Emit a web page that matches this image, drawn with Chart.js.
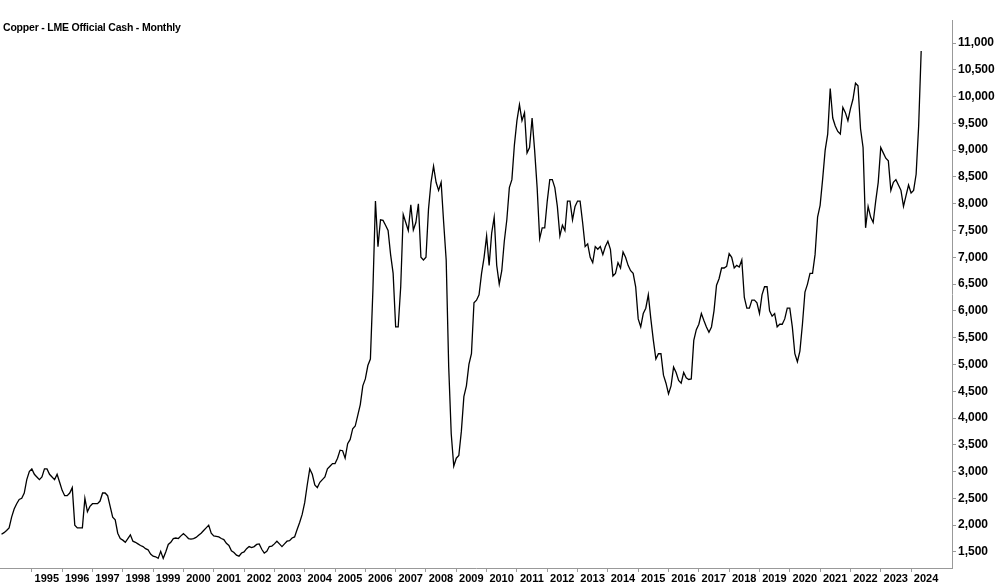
<!DOCTYPE html>
<html>
<head>
<meta charset="utf-8">
<script src="https://cdn.jsdelivr.net/npm/chart.js@4"></script>
<style>
  body { margin: 0; background: #fff; }
  #wrap { position: relative; width: 1000px; height: 583px; }
  #title { position: absolute; left: 3px; top: 21px; font: bold 10.5px "Liberation Sans", Arial, sans-serif; color: #000; letter-spacing: -0.2px; }
</style>
</head>
<body>
<div id="wrap">
  <canvas id="copperChart" width="1000" height="583"></canvas>
  <div id="title">Copper - LME Official Cash - Monthly</div>
</div>
<script>
// monthly LME cash copper, USD/t, Jan 1994 - May 2024
const startYear = 1994;
const y1994 = [1830, 1860, 1900, 1950, 2150, 2300, 2400, 2480, 2500, 2600, 2850, 3000];
const y1995 = [3050, 2950, 2900, 2850, 2900, 3050, 3050, 2950, 2900, 2850, 2950, 2800];
const y1996 = [2650, 2550, 2550, 2600, 2700, 2000, 1950, 1950, 1950, 2500, 2250, 2350];
const y1997 = [2400, 2400, 2400, 2450, 2600, 2600, 2550, 2350, 2150, 2100, 1850, 1750];
const y1998 = [1720, 1680, 1750, 1820, 1700, 1680, 1650, 1620, 1600, 1560, 1540, 1460];
const y1999 = [1420, 1410, 1380, 1510, 1380, 1500, 1640, 1680, 1750, 1760, 1750, 1800];
const y2000 = [1840, 1800, 1750, 1740, 1750, 1770, 1810, 1850, 1900, 1950, 2000, 1850];
const y2001 = [1800, 1790, 1780, 1750, 1730, 1660, 1620, 1520, 1490, 1440, 1420, 1480];
const y2002 = [1500, 1560, 1600, 1580, 1600, 1640, 1650, 1550, 1480, 1510, 1600, 1610];
const y2003 = [1650, 1700, 1650, 1600, 1650, 1700, 1710, 1760, 1780, 1920, 2050, 2200];
const y2004 = [2420, 2750, 3050, 2950, 2750, 2700, 2800, 2850, 2900, 3050, 3100, 3150];
const y2005 = [3150, 3250, 3400, 3390, 3250, 3520, 3600, 3800, 3850, 4050, 4250, 4600];
const y2006 = [4730, 4980, 5100, 6400, 8050, 7200, 7700, 7690, 7600, 7500, 7050, 6700];
const y2007 = [5700, 5700, 6450, 7800, 7650, 7500, 7980, 7510, 7650, 8000, 7000, 6950];
const y2008 = [7000, 7900, 8400, 8700, 8400, 8250, 8400, 7650, 6950, 4950, 3700, 3100];
const y2009 = [3250, 3300, 3750, 4400, 4600, 5000, 5200, 6150, 6200, 6300, 6700, 7000];
const y2010 = [7400, 6850, 7450, 7750, 6850, 6500, 6750, 7300, 7700, 8300, 8450, 9100];
const y2011 = [9550, 9850, 9550, 9700, 8950, 9050, 9600, 9000, 8300, 7350, 7550, 7550];
const y2012 = [8050, 8450, 8450, 8300, 7950, 7400, 7600, 7500, 8050, 8050, 7700, 7950];
const y2013 = [8050, 8050, 7650, 7200, 7250, 7000, 6900, 7200, 7150, 7200, 7050, 7200];
const y2014 = [7300, 7150, 6650, 6700, 6900, 6800, 7100, 7000, 6850, 6750, 6700, 6450];
const y2015 = [5850, 5700, 5950, 6050, 6300, 5850, 5450, 5100, 5200, 5200, 4800, 4650];
const y2016 = [4450, 4600, 4950, 4850, 4700, 4650, 4850, 4750, 4720, 4730, 5450, 5650];
const y2017 = [5750, 5950, 5820, 5700, 5600, 5700, 6000, 6480, 6600, 6800, 6800, 6830];
const y2018 = [7070, 7000, 6800, 6850, 6820, 6950, 6250, 6050, 6050, 6200, 6200, 6150];
const y2019 = [5950, 6300, 6450, 6450, 6000, 5900, 5950, 5700, 5750, 5750, 5850, 6050];
const y2020 = [6050, 5700, 5200, 5050, 5250, 5750, 6350, 6500, 6700, 6700, 7050, 7750];
const y2021 = [7970, 8460, 9000, 9300, 10150, 9600, 9450, 9350, 9300, 9800, 9700, 9550];
const y2022 = [9770, 9950, 10250, 10200, 9400, 9050, 7550, 7950, 7750, 7650, 8050, 8400];
const y2023 = [9050, 8950, 8850, 8800, 8250, 8400, 8450, 8350, 8250, 7950, 8150, 8350];
const y2024 = [8200, 8250, 8550, 9450, 10850];

const prices = [].concat(y1994, y1995, y1996, y1997, y1998, y1999, y2000, y2001, y2002, y2003,
  y2004, y2005, y2006, y2007, y2008, y2009, y2010, y2011, y2012, y2013, y2014, y2015, y2016,
  y2017, y2018, y2019, y2020, y2021, y2022, y2023, y2024);

const yearTicks = [];
for (let y = 1995; y <= 2024; y++) yearTicks.push(y);
const priceTicks = [];
for (let v = 1500; v <= 11000; v += 500) priceTicks.push(v);

const points = prices.map((p, i) => ({ x: startYear + i / 12, y: p }));
const tickFont = { family: '"Liberation Sans", Arial, sans-serif', size: 11, weight: 'bold' };

new Chart(document.getElementById('copperChart'), {
    type: 'line',
    data: {
        datasets: [{
            data: points,
            borderColor: '#000',
            borderWidth: 1.3,
            pointRadius: 0,
            tension: 0,
            fill: false
        }]
    },
    options: {
        responsive: false,
        animation: false,
        maintainAspectRatio: false,
        layout: { padding: { top: 20, left: 0, right: 0, bottom: 0 } },
        plugins: { legend: { display: false }, tooltip: { enabled: false } },
        scales: {
            x: {
                type: 'linear',
                min: 1993.95,
                max: 2025.35,
                afterBuildTicks: (axis) => { axis.ticks = yearTicks.map(v => ({ value: v })); },
                afterFit: (axis) => { axis.height = 15; },
                grid: { drawOnChartArea: false, drawTicks: true, tickLength: 4, color: '#999' },
                border: { display: true, color: '#999' },
                ticks: {
                    color: '#000',
                    font: tickFont,
                    padding: 0,
                    maxRotation: 0,
                    autoSkip: false,
                    labelOffset: 15,
                    callback: (v) => String(v)
                }
            },
            y: {
                position: 'right',
                min: 1200,
                max: 11430,
                afterBuildTicks: (axis) => { axis.ticks = priceTicks.map(v => ({ value: v })); },
                afterFit: (axis) => { axis.width = 48; },
                grid: { drawOnChartArea: false, drawTicks: true, tickLength: 4, color: '#999' },
                border: { display: true, color: '#999' },
                ticks: {
                    color: '#000',
                    font: { family: tickFont.family, size: 12, weight: 'bold' },
                    padding: 2,
                    callback: (v) => v.toLocaleString('en-US')
                }
            }
        }
    }
});
</script>
</body>
</html>
